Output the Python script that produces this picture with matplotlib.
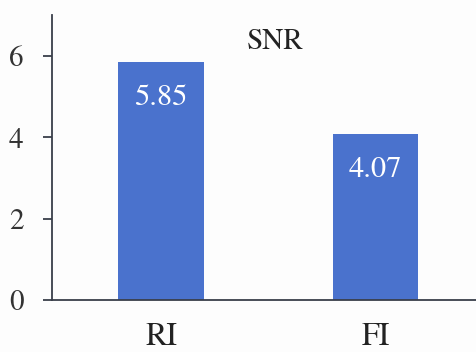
import matplotlib
matplotlib.use("Agg")
import matplotlib.pyplot as plt

categories = ["RI", "FI"]
snr_values = [5.85, 4.07]
y_ticks = [0, 2, 4, 6]

plt.rcParams["font.family"] = "TeX Gyre Termes"

fig = plt.figure(figsize=(4.77, 3.52), dpi=100)
fig.patch.set_facecolor("#fdfdfd")
ax = fig.add_axes([0.109, 0.148, 0.891, 0.809])
ax.set_facecolor("#fdfdfd")

x = range(len(categories))
bars = ax.bar(x, snr_values, width=0.4, color="#4a72cd")

# value labels inside the top of each bar
for bar, v in zip(bars, snr_values):
    ax.text(bar.get_x() + bar.get_width() / 2, v - 1.05, f"{v:.2f}",
            ha="center", va="baseline", color="white", fontsize=22)

ax.text(0.534, 6.16, "SNR", ha="center", va="baseline", fontsize=21, color="#222222")

ax.set_xlim(-0.508, 1.473)
ax.set_ylim(0, 7)
ax.set_yticks(y_ticks)
ax.set_xticks(list(x))
ax.set_xticklabels(categories)

for side in ["top", "right"]:
    ax.spines[side].set_visible(False)
ax.spines["left"].set_color("#3a3f4a")
ax.spines["bottom"].set_color("#3a3f4a")
ax.spines["left"].set_linewidth(1.3)
ax.spines["bottom"].set_linewidth(1.3)

ax.tick_params(axis="y", length=6.5, width=1.3, color="#3a3f4a", labelsize=21,
               labelcolor="#333333", pad=14)
ax.tick_params(axis="x", length=0, labelsize=23, labelcolor="#222222", pad=16)

fig.savefig("out.png", dpi=100, facecolor=fig.get_facecolor())
